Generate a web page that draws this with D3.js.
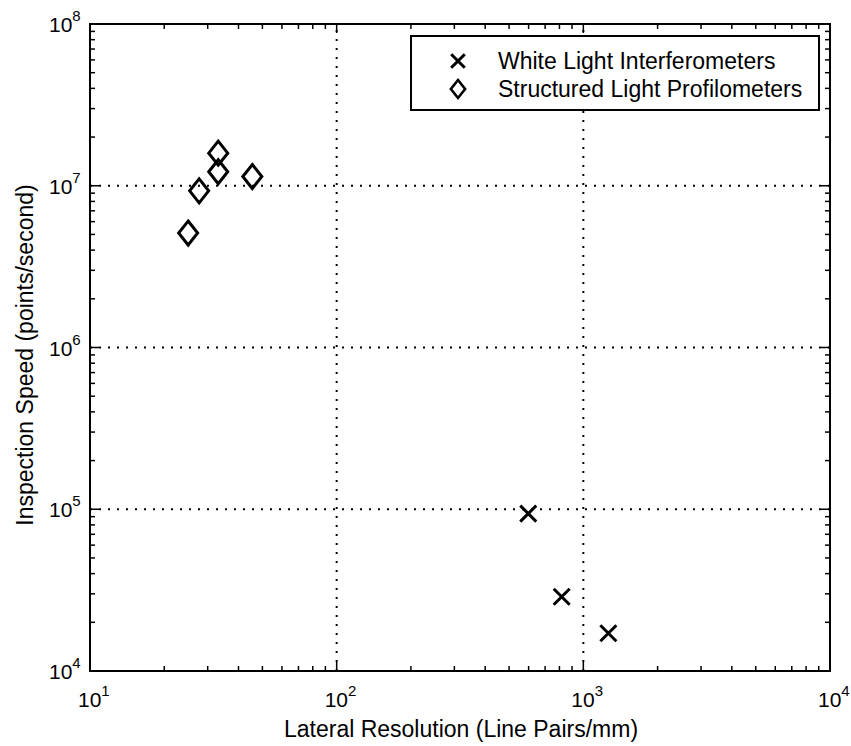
<!DOCTYPE html>
<html lang="en">
<head>
    <meta charset="UTF-8">
    <title>Inspection Speed vs Lateral Resolution</title>
    <style>
        body {
            margin: 0;
            padding: 0;
            background-color: #ffffff;
        }
        svg {
            display: block;
            font-family: "Liberation Sans", Arial, sans-serif;
        }
    </style>
</head>
<body>
<svg width="851" height="746"></svg>

<script src="https://cdn.jsdelivr.net/npm/d3@7"></script>
<script>
    // data
    let wliResolution = [598, 817, 1263];
    let wliSpeed = [94000, 28800, 17100];

    let slpResolution = [33.1, 33.1, 27.7, 45.5, 25.0];
    let slpSpeed = [15.9e6, 12.2e6, 9.3e6, 11.4e6, 5.1e6];

    let xDecades = [1, 2, 3, 4];
    let yDecades = [4, 5, 6, 7, 8];
    let legendLabels = ["White Light Interferometers", "Structured Light Profilometers"];

    let width = 851, height = 746;
    let margin = {top: 24, right: 21, bottom: 75, left: 90};

    let svg = d3.select("svg");

    let x = d3.scaleLog()
        .domain([10, 1e4])
        .range([margin.left, width - margin.right]);

    let y = d3.scaleLog()
        .domain([1e4, 1e8])
        .range([height - margin.bottom, margin.top]);

    // major and minor tick values
    let xMajor = xDecades.map(d => Math.pow(10, d));
    let yMajor = yDecades.map(d => Math.pow(10, d));
    let xMinor = [], yMinor = [];
    xDecades.slice(0, -1).forEach(d => {
        for (let k = 2; k <= 9; k++) xMinor.push(k * Math.pow(10, d));
    });
    yDecades.slice(0, -1).forEach(d => {
        for (let k = 2; k <= 9; k++) yMinor.push(k * Math.pow(10, d));
    });

    let x0 = x.range()[0], x1 = x.range()[1];
    let y0 = y.range()[0], y1 = y.range()[1];

    // dotted grid at the decades
    let grid = svg.append("g")
        .attr("stroke", "black")
        .attr("stroke-width", 2)
        .attr("stroke-dasharray", "2,7");

    grid.selectAll(".gx")
        .data(xMajor.slice(1, -1))
        .enter()
        .append("line")
        .attr("x1", d => x(d)).attr("x2", d => x(d))
        .attr("y1", y0).attr("y2", y1);

    grid.selectAll(".gy")
        .data(yMajor.slice(1, -1))
        .enter()
        .append("line")
        .attr("x1", x0).attr("x2", x1)
        .attr("y1", d => y(d)).attr("y2", d => y(d));

    // ticks on all four sides, pointing inward
    let ticks = svg.append("g")
        .attr("stroke", "black")
        .attr("stroke-width", 1.5);

    function xTicks(vals, len) {
        vals.forEach(v => {
            ticks.append("line").attr("x1", x(v)).attr("x2", x(v)).attr("y1", y0).attr("y2", y0 - len);
            ticks.append("line").attr("x1", x(v)).attr("x2", x(v)).attr("y1", y1).attr("y2", y1 + len);
        });
    }
    function yTicks(vals, len) {
        vals.forEach(v => {
            ticks.append("line").attr("y1", y(v)).attr("y2", y(v)).attr("x1", x0).attr("x2", x0 + len);
            ticks.append("line").attr("y1", y(v)).attr("y2", y(v)).attr("x1", x1).attr("x2", x1 - len);
        });
    }
    xTicks(xMajor, 9);
    xTicks(xMinor, 5);
    yTicks(yMajor, 9);
    yTicks(yMinor, 5);

    // box
    svg.append("rect")
        .attr("x", x0).attr("y", y1)
        .attr("width", x1 - x0).attr("height", y0 - y1)
        .attr("fill", "none")
        .attr("stroke", "black")
        .attr("stroke-width", 2);

    // tick labels as 10 with a superscript
    function powerLabel(g, exp) {
        g.append("tspan").text("10");
        g.append("tspan")
            .attr("dy", -11)
            .attr("font-size", 15)
            .text(exp);
    }

    xDecades.forEach(d => {
        let t = svg.append("text")
            .attr("x", x(Math.pow(10, d)) - 12)
            .attr("y", y0 + 36)
            .attr("font-size", 21)
            .attr("fill", "black");
        powerLabel(t, d);
    });

    yDecades.forEach(d => {
        let t = svg.append("text")
            .attr("x", x0 - 41)
            .attr("y", y(Math.pow(10, d)) + 8)
            .attr("font-size", 21)
            .attr("fill", "black");
        powerLabel(t, d);
    });

    // axis titles
    svg.append("text")
        .attr("x", 461)
        .attr("y", height - 9)
        .attr("text-anchor", "middle")
        .attr("font-size", 23)
        .text("Lateral Resolution (Line Pairs/mm)");

    svg.append("text")
        .attr("transform", "translate(33, 355) rotate(-90)")
        .attr("text-anchor", "middle")
        .attr("font-size", 23)
        .text("Inspection Speed (points/second)");

    // markers
    let crossPath = "M-8,-8L8,8M-8,8L8,-8";
    let diamondPath = "M0,-12L9.5,0L0,12L-9.5,0Z";

    svg.append("g")
        .selectAll("path")
        .data(slpResolution.map((r, i) => [r, slpSpeed[i]]))
        .enter()
        .append("path")
        .attr("transform", d => `translate(${x(d[0])},${y(d[1])})`)
        .attr("d", diamondPath)
        .attr("fill", "none")
        .attr("stroke", "black")
        .attr("stroke-width", 3);

    svg.append("g")
        .selectAll("path")
        .data(wliResolution.map((r, i) => [r, wliSpeed[i]]))
        .enter()
        .append("path")
        .attr("transform", d => `translate(${x(d[0])},${y(d[1])})`)
        .attr("d", crossPath)
        .attr("fill", "none")
        .attr("stroke", "black")
        .attr("stroke-width", 3);

    // legend
    let legend = svg.append("g")
        .attr("transform", "translate(411, 36)");

    legend.append("rect")
        .attr("width", 408)
        .attr("height", 74)
        .attr("fill", "white")
        .attr("stroke", "black")
        .attr("stroke-width", 2);

    let legendPaths = [crossPath, diamondPath];
    legendLabels.forEach((label, i) => {
        let row = legend.append("g")
            .attr("transform", `translate(47, ${25 + i * 28})`);
        row.append("path")
            .attr("d", legendPaths[i])
            .attr("transform", i == 0 ? "scale(0.85)" : "scale(0.75)")
            .attr("fill", "none")
            .attr("stroke", "black")
            .attr("stroke-width", 3.5);
        row.append("text")
            .attr("x", 40)
            .attr("y", 8)
            .attr("font-size", 23)
            .text(label);
    });
</script>
</body>
</html>
